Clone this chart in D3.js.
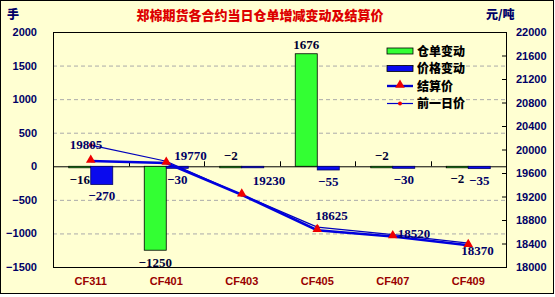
<!DOCTYPE html>
<html>
<head>
<meta charset="utf-8">
<script src="https://cdn.jsdelivr.net/npm/d3@7"></script>
<style>
  body { margin: 0; background: #fff; }
  text { font-family: "Liberation Sans", "Noto Sans CJK SC", sans-serif; font-weight: bold; }
  .cn { font-family: "Noto Sans CJK SC", sans-serif; font-weight: 900; }
  .num { font-family: "Liberation Serif", serif; font-weight: bold; }
</style>
</head>
<body>
<svg id="chart" width="555" height="297"></svg>
<script>
// data
var categories = ['CF311', 'CF401', 'CF403', 'CF405', 'CF407', 'CF409'];
var receiptChange = [-16, -1250, -2, 1676, -2, -2];     // 仓单变动
var priceChange = [-270, -30, 0, -55, -30, -35];        // 价格变动
var settlePrice = [19805, 19770, 19230, 18625, 18520, 18370]; // 结算价
var prevPrice = [20075, 19800, 19230, 18680, 18550, 18405];   // 前一日价
var leftTicks = [2000, 1500, 1000, 500, 0, -500, -1000, -1500];
var rightTicks = [22000, 21600, 21200, 20800, 20400, 20000, 19600, 19200, 18800, 18400, 18000];

// label placement (layout only)
var receiptLabelUp = [false, false, true, true, true, false];
var settleLabelOffset = [[-21, -12], [8, -3], [11, -10], [-2, -10], [5, 2], [-7, 10]];

var margin = {top: 32, right: 49, bottom: 30, left: 53};
var width = 555 - margin.left - margin.right;
var height = 267 - margin.top;

var svg = d3.select('#chart');

// background + frame
svg.append('rect')
  .attr('x', 0.5).attr('y', 0.5)
  .attr('width', 553).attr('height', 293)
  .style('fill', '#ffffd2')
  .style('stroke', '#000');

var g = svg.append('g')
  .attr('transform', 'translate(' + margin.left + ',' + margin.top + ')');

// scales
var x = d3.scaleBand().domain(categories).range([0, width]);
var y = d3.scaleLinear().domain([-1500, 2000]).range([height, 0]);
var y2 = d3.scaleLinear().domain([18000, 22000]).range([height, 0]);
var barW = 22;
var fmt = d3.format('d');

// grid lines
g.selectAll('line.grid')
  .data(leftTicks.filter(function(d) { return d !== 0 && d !== 2000 && d !== -1500; }))
  .enter().append('line')
    .attr('x1', 0).attr('x2', width)
    .attr('y1', function(d) { return y(d) + 0.5; })
    .attr('y2', function(d) { return y(d) + 0.5; })
    .style('stroke', '#aaa')
    .style('stroke-dasharray', '4,3');

// plot border
g.append('rect')
  .attr('x', 0.5).attr('y', 0.5)
  .attr('width', width).attr('height', height)
  .style('fill', 'none')
  .style('stroke', '#000');

// left axis
var yAxis = d3.axisLeft(y).tickValues(leftTicks).tickFormat(fmt).tickSize(0).tickPadding(16);
g.append('g').call(yAxis)
  .call(function(s) { s.select('.domain').remove(); })
  .selectAll('text')
    .style('font-size', '11px')
    .style('fill', '#000066');

// right axis
var y2Axis = d3.axisRight(y2).tickValues(rightTicks).tickFormat(fmt).tickSize(-4).tickPadding(10);
var ra = g.append('g').attr('transform', 'translate(' + width + ',0)').call(y2Axis);
ra.select('.domain').remove();
ra.selectAll('line').style('stroke', '#000');
ra.selectAll('text')
  .style('font-size', '11px')
  .style('fill', '#000066');

// zero line with category ticks
g.append('line')
  .attr('x1', 0).attr('x2', width)
  .attr('y1', y(0) + 0.5).attr('y2', y(0) + 0.5)
  .style('stroke', '#000');
g.selectAll('line.ctick')
  .data(categories.slice(1))
  .enter().append('line')
    .attr('x1', function(d) { return Math.round(x(d)) + 0.5; })
    .attr('x2', function(d) { return Math.round(x(d)) + 0.5; })
    .attr('y1', y(0) - 5).attr('y2', y(0))
    .style('stroke', '#000');

// category labels
g.selectAll('text.cat')
  .data(categories)
  .enter().append('text')
    .attr('x', function(d) { return x(d) + x.bandwidth() / 2; })
    .attr('y', height + 18)
    .attr('text-anchor', 'middle')
    .style('font-size', '11px')
    .style('fill', '#990000')
    .text(function(d) { return d; });

function barY(v) { return Math.min(y(v), y(0)); }
function barH(v) { return Math.max(1.5, Math.abs(y(v) - y(0))); }

// receipt bars (green)
g.selectAll('rect.receipt')
  .data(receiptChange)
  .enter().append('rect')
    .attr('x', function(d, i) { return x(categories[i]) + x.bandwidth() / 2 - barW; })
    .attr('y', function(d) { return barY(d); })
    .attr('width', barW)
    .attr('height', function(d) { return barH(d); })
    .style('fill', '#33ff33')
    .style('stroke', '#000')
    .style('stroke-width', 0.8);

// price change bars (blue)
g.selectAll('rect.price')
  .data(priceChange)
  .enter().append('rect')
    .attr('x', function(d, i) { return x(categories[i]) + x.bandwidth() / 2; })
    .attr('y', function(d) { return barY(d); })
    .attr('width', barW)
    .attr('height', function(d) { return barH(d); })
    .style('fill', '#0a0aee')
    .style('stroke', '#000066')
    .style('stroke-width', 0.8);

// bar labels
g.selectAll('text.rlab')
  .data(receiptChange)
  .enter().append('text')
    .attr('class', 'num')
    .attr('x', function(d, i) { return x(categories[i]) + x.bandwidth() / 2 - barW / 2; })
    .attr('y', function(d, i) {
      if (d > 0) return y(d) - 5;
      if (receiptLabelUp[i]) return y(0) - 6;
      return y(d) + 17;
    })
    .attr('text-anchor', 'middle')
    .style('font-size', '13px')
    .style('fill', '#000033')
    .text(function(d) { return d < 0 ? '\u2212' + (-d) : d; });

// zero price change is hidden under the settlement label in the reference
g.selectAll('text.plab')
  .data(priceChange.map(function(d, i) { return {v: d, i: i}; }).filter(function(d) { return d.v !== 0; }))
  .enter().append('text')
    .attr('class', 'num')
    .attr('x', function(d) { return x(categories[d.i]) + x.bandwidth() / 2 + barW / 2; })
    .attr('y', function(d) { return Math.max(y(d.v), y(0) + 1) + 16; })
    .attr('text-anchor', 'middle')
    .style('font-size', '13px')
    .style('fill', '#000066')
    .text(function(d) { return '\u2212' + (-d.v); });

// lines
var cx = function(d, i) { return x(categories[i]) + x.bandwidth() / 2; };
var line = d3.line().x(cx).y(function(d) { return y2(d); });

g.append('path')
  .datum(prevPrice)
  .attr('d', line)
  .style('fill', 'none')
  .style('stroke', '#0000bb')
  .style('stroke-width', 1.2);

g.append('path')
  .datum(settlePrice)
  .attr('d', line)
  .style('fill', 'none')
  .style('stroke', '#0000dd')
  .style('stroke-width', 2.6);

g.selectAll('circle.prev')
  .data(prevPrice)
  .enter().append('circle')
    .attr('cx', cx)
    .attr('cy', function(d) { return y2(d); })
    .attr('r', 2)
    .style('fill', '#ee0000');

var tri = d3.symbol().type(d3.symbolTriangle).size(40);
g.selectAll('path.settle')
  .data(settlePrice)
  .enter().append('path')
    .attr('d', tri)
    .attr('transform', function(d, i) { return 'translate(' + cx(d, i) + ',' + (y2(d) - 1) + ')'; })
    .style('fill', '#ee0000');

g.selectAll('text.slab')
  .data(settlePrice)
  .enter().append('text')
    .attr('class', 'num')
    .attr('x', function(d, i) { return cx(d, i) + settleLabelOffset[i][0]; })
    .attr('y', function(d, i) { return y2(d) + settleLabelOffset[i][1]; })
    .style('font-size', '13px')
    .style('fill', '#000066')
    .text(function(d) { return d; });

// legend
var legend = svg.append('g').attr('transform', 'translate(387,0)');
var legendItems = ['仓单变动', '价格变动', '结算价', '前一日价'];
legendItems.forEach(function(name, i) {
  var ly = 51 + i * 17.5;
  if (i === 0 || i === 1) {
    legend.append('rect')
      .attr('x', 0).attr('y', ly - 3)
      .attr('width', 26).attr('height', 6)
      .style('fill', i === 0 ? '#33ff33' : '#0a0aee')
      .style('stroke', '#000')
      .style('stroke-width', 0.8);
  } else {
    legend.append('line')
      .attr('x1', 0).attr('x2', 26)
      .attr('y1', ly).attr('y2', ly)
      .style('stroke', '#0000cc')
      .style('stroke-width', i === 2 ? 2.4 : 1.2);
    if (i === 2) {
      legend.append('path')
        .attr('d', tri)
        .attr('transform', 'translate(13,' + (ly - 1) + ')')
        .style('fill', '#ee0000');
    } else {
      legend.append('circle')
        .attr('cx', 13).attr('cy', ly).attr('r', 2)
        .style('fill', '#ee0000');
    }
  }
  legend.append('text')
    .attr('class', 'cn')
    .attr('x', 30).attr('y', ly + 4.5)
    .style('font-size', '12px')
    .style('fill', '#000')
    .text(name);
});

// title and unit labels
svg.append('text')
  .attr('class', 'cn')
  .attr('x', 260).attr('y', 20)
  .attr('text-anchor', 'middle')
  .style('font-size', '13px')
  .style('fill', '#dd0000')
  .text('郑棉期货各合约当日仓单增减变动及结算价');

svg.append('text')
  .attr('class', 'cn')
  .attr('x', 7).attr('y', 19)
  .style('font-size', '12px')
  .style('fill', '#000066')
  .text('手');

svg.append('text')
  .attr('class', 'cn')
  .attr('x', 486).attr('y', 19)
  .style('font-size', '12px')
  .style('fill', '#000066')
  .text('元/吨');
</script>
</body>
</html>
